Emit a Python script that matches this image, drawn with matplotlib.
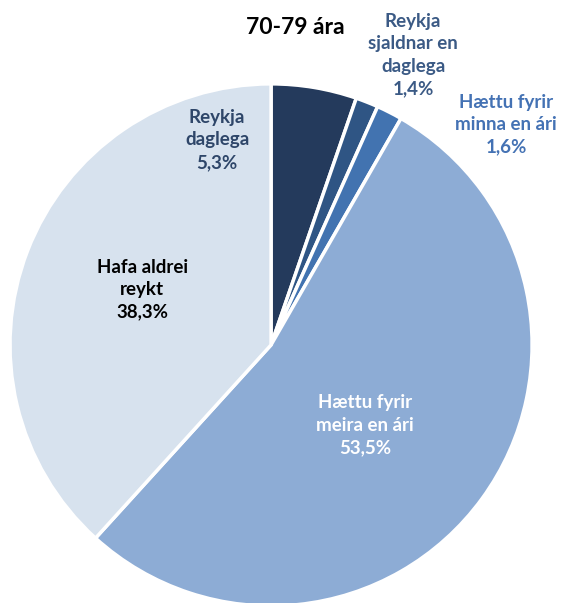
import matplotlib
matplotlib.use("Agg")
import matplotlib.pyplot as plt

categories = ["Reykja daglega", "Reykja sjaldnar en daglega", "Hættu fyrir minna en ári",
              "Hættu fyrir meira en ári", "Hafa aldrei reykt"]
label_texts = ["Reykja\ndaglega", "Reykja\nsjaldnar en\ndaglega", "Hættu fyrir\nminna en ári",
               "Hættu fyrir\nmeira en ári", "Hafa aldrei\nreykt"]
values = [5.3, 1.4, 1.6, 53.5, 38.3]
title = "70-79 ára"

colors = ["#243A5C", "#2F5584", "#4273B0", "#8DACD5", "#D7E2EE"]
label_colors = ["#2E4669", "#3B5A85", "#4472B4", "#FFFFFF", "#000000"]
label_pos = [(-0.207, 0.785), (0.544, 1.111), (0.900, 0.843), (0.360, -0.307), (-0.494, 0.211)]

plt.rcParams['font.family'] = ['Lato', 'DejaVu Sans']

fig = plt.figure(figsize=(5.62, 6.03), dpi=100)
ax = fig.add_axes([0.0178, -0.005, 0.929, 0.866])
ax.pie(values, colors=colors, startangle=90, counterclock=False, radius=1,
       wedgeprops=dict(edgecolor="white", linewidth=2.5))
ax.set_xlim(-1, 1)
ax.set_ylim(-1, 1)
ax.set_aspect("equal")
ax.axis("off")

for txt, v, c, (x, y) in zip(label_texts, values, label_colors, label_pos):
    s = f"{txt}\n{v:.1f}%".replace(".", ",")
    ax.text(x, y, s, ha="center", va="center", color=c, fontsize=13.5, fontweight="bold",
            linespacing=1.38)

fig.text(295 / 562, 1 - 28 / 603, title, ha="center", va="center", fontsize=16.5,
         fontweight="bold", color="black")

fig.savefig("out.png", dpi=100)
